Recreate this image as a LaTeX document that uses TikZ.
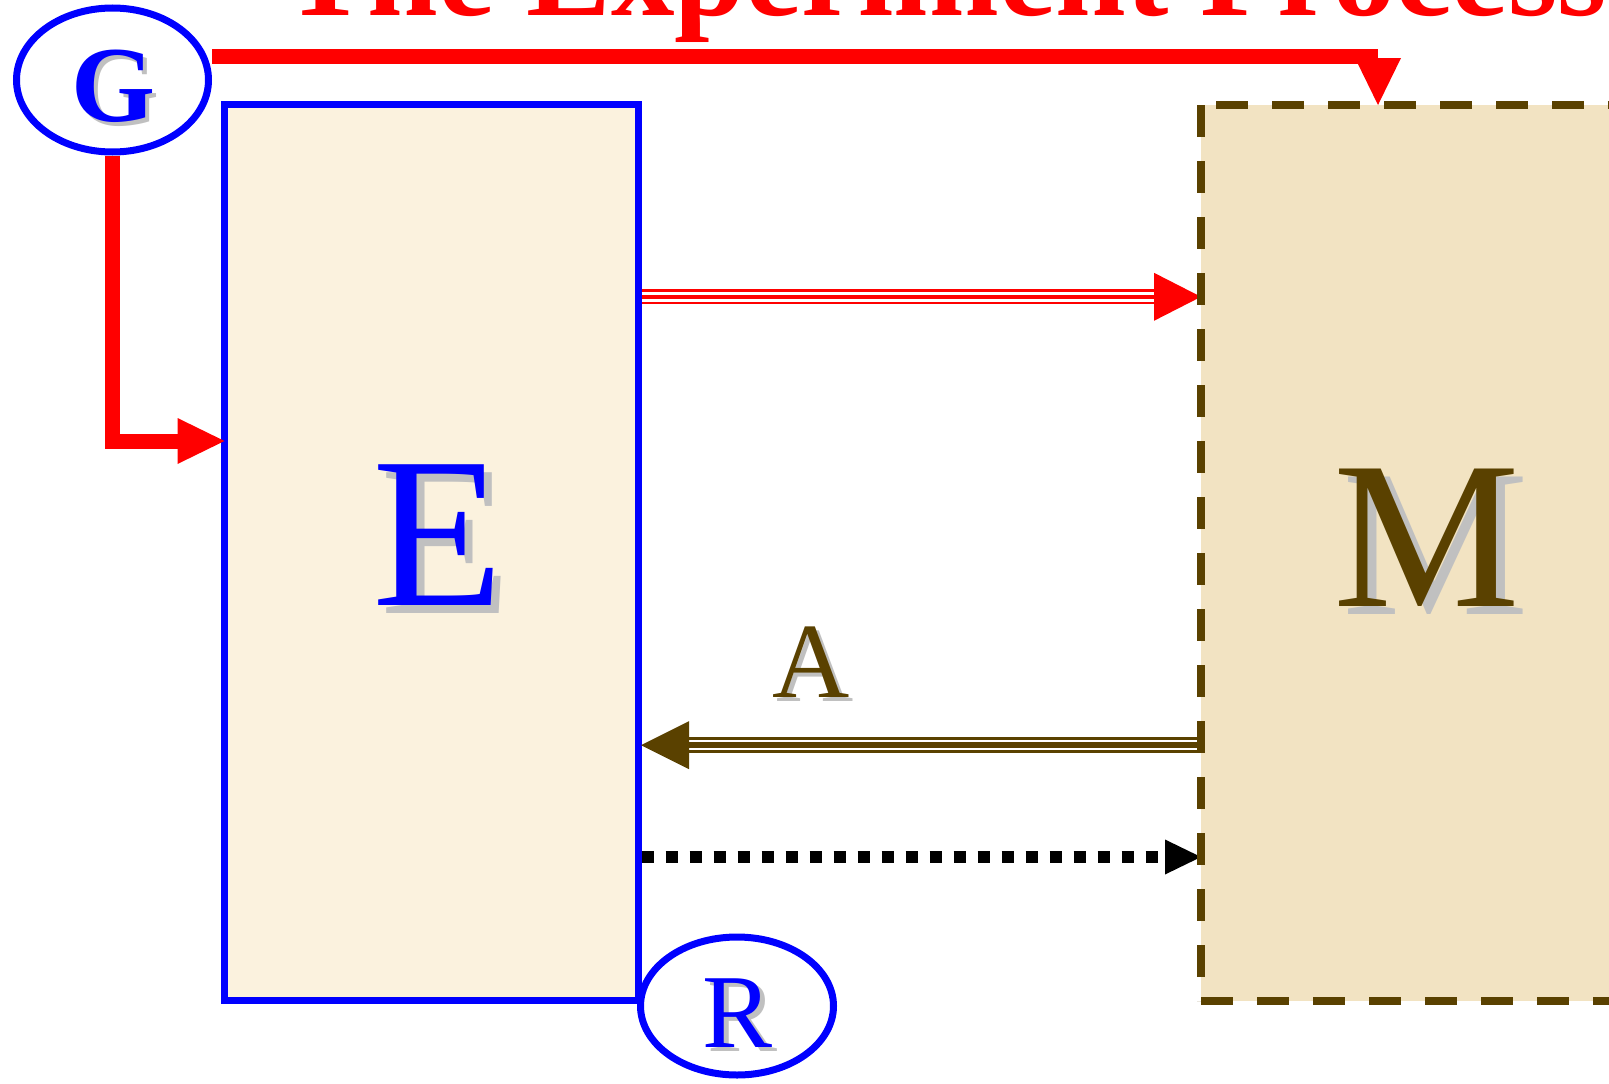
\documentclass[tikz,border=0pt]{standalone}
\usepackage{fontspec}
\newfontfamily\tnr{Liberation Serif}
\usetikzlibrary{calc,shapes.geometric}
\definecolor{eblue}{RGB}{0,0,255}
\definecolor{ered}{RGB}{255,0,0}
\definecolor{ebrown}{RGB}{90,65,0}
\definecolor{eshadow}{RGB}{192,192,192}
\definecolor{efill}{RGB}{251,242,222}
\definecolor{mfill}{RGB}{242,227,194}
\begin{document}
\begin{tikzpicture}[x=1pt,y=-1pt,
  boxE/.style={rectangle, draw=eblue, line width=7pt, fill=efill, inner sep=0pt, outer sep=0pt,
    minimum width=413.5pt, minimum height=895.5pt},
  boxM/.style={rectangle, fill=mfill, draw=none, inner sep=0pt, outer sep=0pt,
    minimum width=520pt, minimum height=896pt},
  mborder/.style={draw=ebrown, line width=7.7pt, dash pattern=on 32pt off 24pt},
  oval/.style={ellipse, draw=eblue, line width=7pt, fill=white, inner sep=0pt},
  letter/.style={inner sep=0pt, anchor=base},
  redthick/.style={ered, line width=15pt},
  triplered/.style={ered, line width=4.3pt,
    preaction={draw, ered, line width=15pt},
    preaction={draw, white, line width=10pt}},
  twobrown/.style={ebrown, line width=6pt,
    preaction={draw, ebrown, line width=16.3pt},
    preaction={draw, white, line width=10.3pt}},
  dotline/.style={black, line width=12pt, dash pattern=on 12pt off 12pt},
 ]
\useasboundingbox (0,0) rectangle (1609,1084);
\clip (0,0) rectangle (1609,1084);
\fill[white] (0,0) rectangle (1609,1084);

% boxes and ovals
\node[boxM] (M) at (1461,553) {};
\node[boxE] (E) at (431.25,552.25) {};
\node[oval, minimum width=192pt, minimum height=144pt] (G) at (112.5,80) {};
\node[oval, minimum width=193pt, minimum height=138pt] (R) at (737,1006) {};

% helper coordinates
\coordinate (yt) at (0,56.5);
\coordinate (xm) at (1378,0);
\coordinate (ye) at (0,441);
\coordinate (yr) at (0,296.8);
\coordinate (yb) at (0,745.2);
\coordinate (yd) at (0,857);

% G -> M (top)
\draw[redthick] (G.east |- yt) -- (xm |- yt);
\fill[ered] (xm |- M.north) -- ++(-23,-47) -- ++(46,0) -- cycle;

% G -> E
\draw[redthick, line join=miter] (G.south) |- ($(E.west |- ye)+(-47,0)$);
\fill[ered] (E.west |- ye) -- ++(-47,-23) -- ++(0,46) -- cycle;

% E -> M triple red
\draw[triplered] ($(E.east |- yr)+(3.5,0)$) -- ($(M.west |- yr)+(-47,0)$);
\fill[ered] (M.west |- yr) -- ++(-47,-24) -- ++(0,48) -- cycle;

% M -> E brown (A)
\coordinate (atip) at ($(E.east |- yb)+(3,0)$);
\draw[twobrown] (M.west |- yb) -- ($(atip)+(48,0)$);
\fill[ebrown] (atip) -- ++(48,-24) -- ++(0,48) -- cycle;

% E -> M dotted
\draw[dotline] ($(E.east |- yd)+(3.5,0)$) -- ($(M.west |- yd)+(-36,0)$);
\fill[black] (M.west |- yd) -- ++(-36,-17.5) -- ++(0,35) -- cycle;

% M dashed border
\draw[mborder] (M.north west) -- (M.south west);
\draw[mborder] (M.south west) -- (M.south east);
\draw[mborder, dash phase=41pt] (M.north west) -- (M.north east);

% letters
\node[letter, text=eshadow, font={\tnr\fontsize{215}{215}\selectfont}] (Es) at (446,613) {E};
\node[letter, text=eblue, font={\tnr\fontsize{215}{215}\selectfont}] (El) at (438,605) {E};
\node[letter, text=eshadow, font={\tnr\fontsize{210}{210}\selectfont}] (Ms) at (1436,614.5) {M};
\node[letter, text=ebrown, font={\tnr\fontsize{210}{210}\selectfont}] (Ml) at (1427,606) {M};
\node[letter, text=eshadow, font={\tnr\fontsize{107}{107}\selectfont}] (As) at (815,701) {A};
\node[letter, text=ebrown, font={\tnr\fontsize{107}{107}\selectfont}] (Al) at (811,697) {A};
\node[letter, text=eshadow, font={\tnr\bfseries\fontsize{108}{108}\selectfont}] (Gs) at (118,125) {G};
\node[letter, text=eblue, font={\tnr\bfseries\fontsize{108}{108}\selectfont}] (Gl) at (114,121) {G};
\node[letter, text=eshadow, font={\tnr\fontsize{105}{105}\selectfont}] (Rs) at (742.5,1051.5) {R};
\node[letter, text=eblue, font={\tnr\fontsize{105}{105}\selectfont}] (Rl) at (738,1047) {R};

% title
\node[inner sep=0pt, anchor=base west, text=ered, font={\tnr\bfseries\fontsize{127}{127}\selectfont}] (T) at (283,15) {The Experiment Process};
\end{tikzpicture}
\end{document}
